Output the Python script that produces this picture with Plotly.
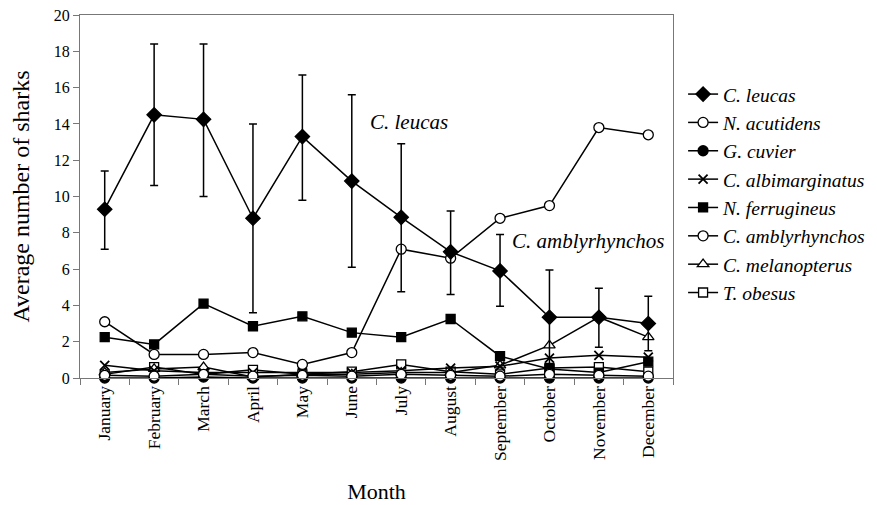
import plotly.graph_objects as go

months = ["January", "February", "March", "April", "May", "June", "July",
          "August", "September", "October", "November", "December"]

c_leucas = [9.3, 14.5, 14.25, 8.8, 13.3, 10.85, 8.85, 6.95, 5.9, 3.35, 3.35, 3.0]
c_leucas_hi = [11.4, 18.4, 18.4, 14.0, 16.7, 15.6, 12.9, 9.2, 7.9, 5.95, 4.95, 4.5]
c_leucas_lo = [7.1, 10.6, 10.0, 3.6, 9.8, 6.1, 4.75, 4.6, 3.95, 0.75, 1.7, 1.5]
n_acutidens = [0.15, 0.1, 0.2, 0.1, 0.15, 0.1, 0.2, 0.15, 0.1, 0.2, 0.15, 0.1]
g_cuvier = [0.0, 0.0, 0.05, 0.0, 0.0, 0.0, 0.0, 0.0, 0.0, 0.0, 0.0, 0.0]
c_albimarginatus = [0.7, 0.4, 0.3, 0.3, 0.3, 0.3, 0.4, 0.55, 0.65, 1.1, 1.25, 1.15]
n_ferrugineus = [2.25, 1.85, 4.1, 2.85, 3.4, 2.5, 2.25, 3.25, 1.2, 0.5, 0.3, 0.9]
c_amblyrhynchos = [3.1, 1.3, 1.3, 1.4, 0.75, 1.4, 7.1, 6.6, 8.8, 9.5, 13.8, 13.4]
c_melanopterus = [0.3, 0.5, 0.6, 0.05, 0.2, 0.2, 0.3, 0.3, 0.7, 1.8, 3.35, 2.25]
t_obesus = [0.2, 0.6, 0.2, 0.45, 0.2, 0.35, 0.75, 0.35, 0.2, 0.55, 0.6, 0.35]

err_plus = [h - v for h, v in zip(c_leucas_hi, c_leucas)]
err_minus = [v - l for v, l in zip(c_leucas, c_leucas_lo)]

FONT = "'Liberation Serif', 'Times New Roman', Times, serif"
fig = go.Figure()


def add(name, y, symbol, size, fill, err=None):
    kw = {}
    if err is not None:
        kw["error_y"] = dict(type="data", symmetric=False, array=err[0], arrayminus=err[1],
                             color="black", thickness=1.5, width=4)
    fig.add_trace(go.Scatter(
        x=months, y=y, name="<i>" + name + "</i>", mode="lines+markers",
        line=dict(color="black", width=1.5),
        marker=dict(symbol=symbol, size=size, color=fill,
                    line=dict(color="black", width=1.3 if symbol != "x-thin" else 1.8)),
        cliponaxis=False, **kw))


add("T. obesus", t_obesus, "square", 9, "white")
add("C. melanopterus", c_melanopterus, "triangle-up", 10, "white")
add("C. amblyrhynchos", c_amblyrhynchos, "circle", 10, "white")
add("N. ferrugineus", n_ferrugineus, "square", 9, "black")
add("C. albimarginatus", c_albimarginatus, "x-thin", 9, "black")
add("G. cuvier", g_cuvier, "circle", 10, "black")
add("N. acutidens", n_acutidens, "circle", 10, "white")
add("C. leucas", c_leucas, "diamond", 11, "black", err=(err_plus, err_minus))

fig.add_annotation(x="July", y=14.1, text="<i>C. leucas</i>", showarrow=False,
                   xanchor="center", yanchor="middle", xshift=8,
                   font=dict(family=FONT, size=21, color="black"))
fig.add_annotation(x="October", y=7.55, text="<i>C. amblyrhynchos</i>", showarrow=False,
                   xanchor="center", yanchor="middle", xshift=39,
                   font=dict(family=FONT, size=21, color="black"))

# the page body adds an 8px offset, so margins are reduced on the left/top
fig.update_layout(
    width=877, height=505,
    margin=dict(l=72, r=212, t=7, b=135),
    paper_bgcolor="white", plot_bgcolor="white",
    font=dict(family=FONT, color="black", size=16),
    legend=dict(x=1.017, y=0.835, xanchor="left", yanchor="top",
                traceorder="reversed", font=dict(family=FONT, size=19.5),
                itemwidth=30, tracegroupgap=0, bgcolor="rgba(0,0,0,0)"),
    xaxis=dict(type="category", range=[-0.5, 11.5], showline=True, linecolor="#777",
               linewidth=1.2, mirror=True, ticks="outside", tickson="boundaries", ticklen=6,
               tickcolor="#777", tickangle=-90, tickfont=dict(size=17.5),
               title=dict(text="Month", font=dict(size=22), standoff=23),
               showgrid=False, automargin=False, ticklabeloverflow="allow"),
    yaxis=dict(range=[0, 20], dtick=2, showline=True, linecolor="#777", linewidth=1.2,
               mirror=True, ticks="outside", ticklen=6, tickcolor="#777",
               tickfont=dict(size=16), showgrid=False, zeroline=False, automargin=False,
               ticklabeloverflow="allow",
               title=dict(text="Average number of sharks", font=dict(size=24), standoff=18)),
)

fig.write_html("out.html")
